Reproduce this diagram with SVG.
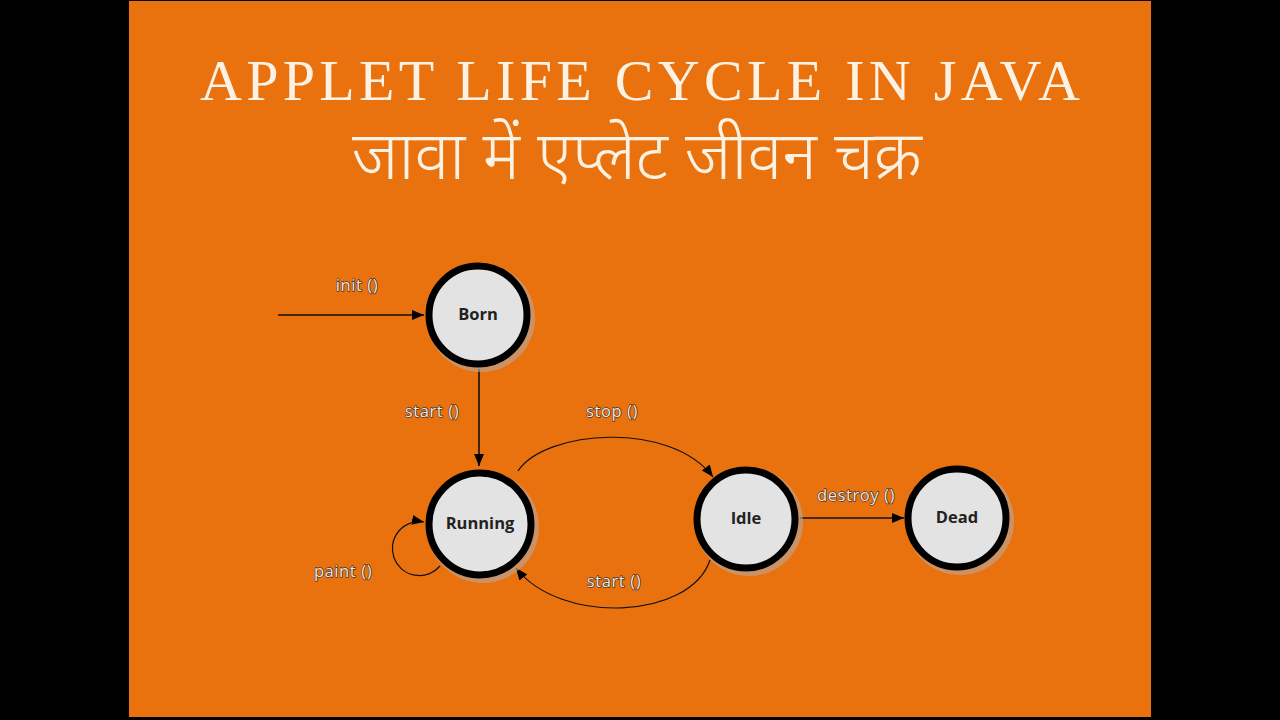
<svg xmlns="http://www.w3.org/2000/svg" width="1280" height="720" viewBox="0 0 1280 720">
<defs>
<style>
.title{font-family:"Liberation Serif","DejaVu Serif",serif;fill:#fbf2e4;font-size:58px}
.hindi{font-family:"Noto Sans Devanagari","Noto Sans","Lohit Devanagari",sans-serif;fill:#fbf2e4;font-size:68px;font-weight:300}
.lbl{font-family:"Open Sans","Liberation Sans",sans-serif;font-size:16.5px;letter-spacing:0.6px;fill:#eee8e0;stroke:#4a3020;stroke-width:1.4;paint-order:stroke;stroke-linejoin:round}
.nt{font-family:"Open Sans","Liberation Sans",sans-serif;font-size:16.5px;font-weight:bold;fill:#222}
.node{fill:#e3e3e3;stroke:#000;stroke-width:7}
.shadow{fill:#b8aaa0;opacity:0.6}
.edge{fill:none;stroke:#111;stroke-width:1.6}
.thin{fill:none;stroke:#111;stroke-width:1.2}
</style>
<marker id="ah" viewBox="0 0 12 10" refX="12" refY="5" markerWidth="12" markerHeight="10" markerUnits="userSpaceOnUse" orient="auto">
<path d="M0,0 L12,5 L0,10 Z" fill="#000"/>
</marker>
</defs>
<rect x="0" y="0" width="1280" height="720" fill="#000"/>
<rect x="129" y="1" width="1022" height="716" fill="#E9720E"/>
<text class="title" x="640" y="100" text-anchor="middle" textLength="880" lengthAdjust="spacing">APPLET LIFE CYCLE IN JAVA</text>
<text class="hindi" x="637" y="179" text-anchor="middle" textLength="570" lengthAdjust="spacingAndGlyphs">जावा में एप्लेट जीवन चक्र</text>

<g id="connectors">
<line class="edge" x1="278" y1="315" x2="424" y2="315" marker-end="url(#ah)"/>
<line class="edge" x1="479" y1="369" x2="479" y2="466" marker-end="url(#ah)"/>
<path class="thin" d="M518,471 C545,430 670,420 713,477" marker-end="url(#ah)"/>
<path class="thin" d="M710,560 C690,620 560,625 516,568" marker-end="url(#ah)"/>
<line class="edge" x1="800" y1="518" x2="904" y2="518" marker-end="url(#ah)"/>
<path class="thin" d="M440,566 A27 27 0 1 1 424,522" marker-end="url(#ah)"/>
</g>

<g id="labels">
<text class="lbl" x="357" y="291" text-anchor="middle">init ()</text>
<text class="lbl" x="432" y="417" text-anchor="middle">start ()</text>
<text class="lbl" x="612" y="417" text-anchor="middle">stop ()</text>
<text class="lbl" x="343" y="577" text-anchor="middle">paint ()</text>
<text class="lbl" x="614" y="587" text-anchor="middle">start ()</text>
<text class="lbl" x="856" y="501" text-anchor="middle">destroy ()</text>
</g>

<g id="born">
<circle class="shadow" cx="481" cy="318" r="54"/>
<circle class="node" cx="478" cy="315" r="49"/>
<text class="nt" x="478" y="320" text-anchor="middle">Born</text>
</g>
<g id="running">
<circle class="shadow" cx="483" cy="527" r="56"/>
<circle class="node" cx="480" cy="524" r="51"/>
<text class="nt" x="480" y="529" text-anchor="middle">Running</text>
</g>
<g id="idle">
<circle class="shadow" cx="749" cy="522" r="54"/>
<circle class="node" cx="746" cy="519" r="49"/>
<text class="nt" x="746" y="524" text-anchor="middle">Idle</text>
</g>
<g id="dead">
<circle class="shadow" cx="960" cy="521" r="54"/>
<circle class="node" cx="957" cy="518" r="49"/>
<text class="nt" x="957" y="523" text-anchor="middle">Dead</text>
</g>
</svg>
